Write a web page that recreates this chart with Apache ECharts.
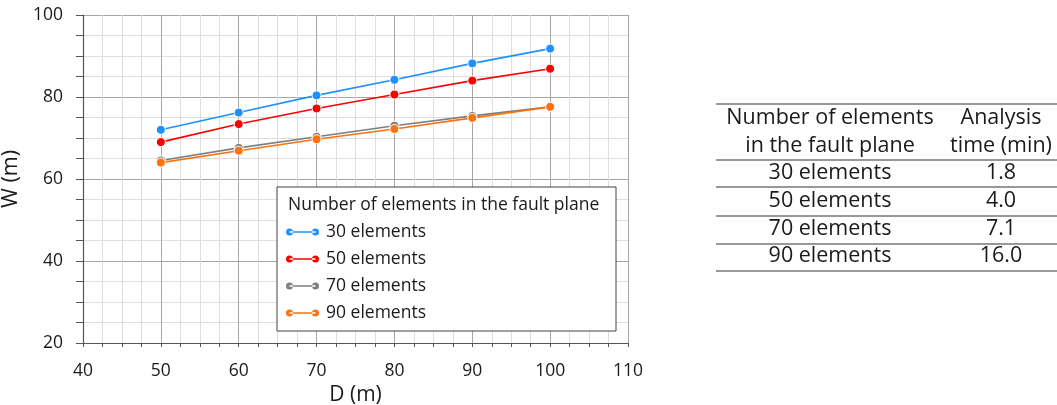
<!DOCTYPE html>
<html><head><meta charset="utf-8">
<script src="https://cdn.jsdelivr.net/npm/echarts@6/dist/echarts.min.js"></script>
<style>html,body{margin:0;padding:0;background:#fff}#c{width:1057px;height:405px}</style>
</head><body><div id="c"></div>
<script>
const dValues = [50, 60, 70, 80, 90, 100];
const seriesNames = ['30 elements', '50 elements', '70 elements', '90 elements'];
const w30 = [72.0, 76.2, 80.4, 84.2, 88.2, 91.8];
const w50 = [69.0, 73.4, 77.2, 80.6, 84.0, 86.9];
const w70 = [64.5, 67.6, 70.3, 73.0, 75.4, 77.6];
const w90 = [64.0, 66.9, 69.7, 72.2, 74.9, 77.6];
const colors = ['#1e90ff', '#ff0000', '#7f7f7f', '#ff7010'];
const legendTitle = 'Number of elements in the fault plane';
const tableHeader1 = ['Number of elements', 'in the fault plane'];
const tableHeader2 = ['Analysis', 'time (min)'];
const tableRows = ['30 elements', '50 elements', '70 elements', '90 elements'];
const analysisTimes = ['1.8', '4.0', '7.1', '16.0'];

const FONT = '"Open Sans", "Noto Sans", sans-serif';
const allW = [w30, w50, w70, w90];

const series = allW.map((arr, i) => ({
  name: seriesNames[i],
  type: 'line',
  data: dValues.map((d, j) => [d, arr[j]]),
  symbol: 'circle',
  symbolSize: 9,
  lineStyle: { color: colors[i], width: 1.6 },
  itemStyle: { color: colors[i], borderColor: '#fff', borderWidth: 1 },
  emphasis: { disabled: true },
  animation: false,
  z: 2 + i
}));

const graphic = [];
// legend box
graphic.push({ type: 'rect', shape: { x: 277, y: 187, width: 339, height: 144 },
  style: { fill: '#fff', stroke: '#404040', lineWidth: 1 }, z: 10 });
graphic.push({ type: 'text', x: 288, y: 205, z: 11,
  style: { text: legendTitle, font: '17.5px ' + FONT, fill: '#1a1a1a', textVerticalAlign: 'middle' } });
// table
const tl = 716, tr = 1057;
const hLines = [104, 160, 187, 216, 244, 271];
hLines.forEach(y => graphic.push({ type: 'line', shape: { x1: tl, y1: y, x2: tr, y2: y },
  style: { stroke: '#333', lineWidth: 1 }, z: 10 }));
const c1 = 830, c2 = 1001;
const tFont = '21.5px ' + FONT;
[118, 146].forEach((y, k) => {
  graphic.push({ type: 'text', x: c1, y: y, z: 11, style: { text: tableHeader1[k], font: tFont, fill: '#1a1a1a', textAlign: 'center', textVerticalAlign: 'middle' } });
  graphic.push({ type: 'text', x: c2, y: y, z: 11, style: { text: tableHeader2[k], font: tFont, fill: '#1a1a1a', textAlign: 'center', textVerticalAlign: 'middle' } });
});
const rowY = [173, 201, 229, 256];
tableRows.forEach((r, k) => {
  graphic.push({ type: 'text', x: c1, y: rowY[k], z: 11, style: { text: r, font: tFont, fill: '#1a1a1a', textAlign: 'center', textVerticalAlign: 'middle' } });
  graphic.push({ type: 'text', x: c2, y: rowY[k], z: 11, style: { text: analysisTimes[k], font: tFont, fill: '#1a1a1a', textAlign: 'center', textVerticalAlign: 'middle' } });
});

const legendIcon = 'path://M0,4a3.5,3.5 0 1,0 7,0a3.5,3.5 0 1,0 -7,0ZM3.5,3.3H29.5V4.7H3.5ZM26,4a3.5,3.5 0 1,0 7,0a3.5,3.5 0 1,0 -7,0Z';

const option = {
  animation: false,
  textStyle: { fontFamily: FONT },
  grid: { left: 83, right: 429, top: 15, bottom: 62, containLabel: false, outerBoundsMode: 'none' },
  xAxis: {
    type: 'value', min: 40, max: 110, interval: 10,
    name: 'D (m)', nameLocation: 'middle', nameGap: 37,
    nameTextStyle: { fontSize: 21, color: '#1a1a1a', fontFamily: FONT },
    axisLine: { show: true, lineStyle: { color: '#555', width: 1.2 } },
    axisTick: { show: true, length: 4, lineStyle: { color: '#555' } },
    minorTick: { show: true, splitNumber: 4, length: 4, lineStyle: { color: '#555' } },
    axisLabel: { fontSize: 17.5, color: '#1a1a1a', margin: 19, fontFamily: FONT },
    splitLine: { show: true, lineStyle: { color: '#a6a6a6', width: 1 } },
    minorSplitLine: { show: true, lineStyle: { color: '#dedede', width: 1 } }
  },
  yAxis: {
    type: 'value', min: 20, max: 100, interval: 20,
    name: 'W (m)', nameLocation: 'middle', nameGap: 50, nameRotate: 90,
    nameTextStyle: { fontSize: 21.5, color: '#1a1a1a', fontFamily: FONT },
    axisLine: { show: true, lineStyle: { color: '#555', width: 1.2 } },
    axisTick: { show: true, length: 7, lineStyle: { color: '#555' } },
    minorTick: { show: true, splitNumber: 4, length: 7, lineStyle: { color: '#555' } },
    axisLabel: { fontSize: 17.5, color: '#1a1a1a', margin: 20, fontFamily: FONT },
    splitLine: { show: true, lineStyle: { color: '#a6a6a6', width: 1 } },
    minorSplitLine: { show: true, lineStyle: { color: '#dedede', width: 1 } }
  },
  legend: {
    orient: 'vertical', left: 286, top: 222, z: 12,
    icon: legendIcon, itemWidth: 33, itemHeight: 7, itemGap: 7,
    padding: 0,
    itemStyle: { borderWidth: 0 },
    textStyle: { fontSize: 17.5, color: '#1a1a1a', fontFamily: FONT, lineHeight: 20, padding: [0, 0, 0, 2] },
    selectedMode: false,
    data: seriesNames
  },
  graphic: graphic,
  series: series
};
const chart = echarts.init(document.getElementById('c'), null, { renderer: 'canvas' });
chart.setOption(option);
</script></body></html>
